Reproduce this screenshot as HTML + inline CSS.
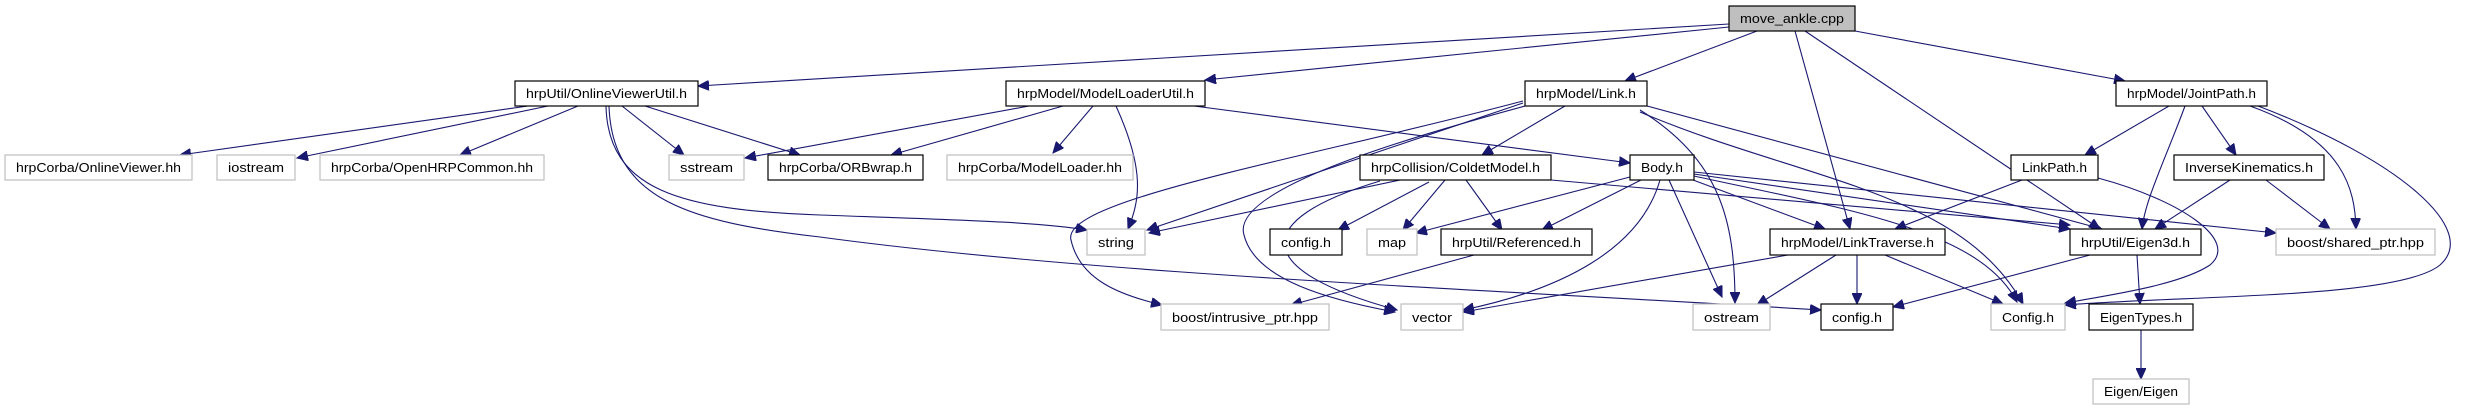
<!DOCTYPE html>
<html><head><meta charset="utf-8"><style>
html,body{margin:0;padding:0;background:#fff;}
svg{display:block;}
text{font-family:"Liberation Sans",sans-serif;font-size:13px;fill:#000;}
.b{fill:#fff;stroke:#000;stroke-width:1.2;}
.g{fill:#fff;stroke:#bfbfbf;stroke-width:1.2;}
.e{fill:none;stroke:#191970;stroke-width:1.1;marker-end:url(#a);}
</style></head><body>
<svg width="2468" height="411" viewBox="0 0 2468 411" xmlns="http://www.w3.org/2000/svg">
<defs><marker id="a" markerUnits="userSpaceOnUse" markerWidth="12" markerHeight="10" refX="11" refY="5" orient="auto"><path d="M0,0 L11,5 L0,10 z" fill="#191970" stroke="#191970"/></marker></defs>
<g>
<!-- edges from move_ankle -->
<path class="e" d="M1729,24 L698,86"/>
<path class="e" d="M1729,27 L1205,80"/>
<path class="e" d="M1757,31 L1625,81"/>
<path class="e" d="M1795,31 L1850,229"/>
<path class="e" d="M1805,31 L2100,229"/>
<path class="e" d="M1855,31 L2125,81"/>
<!-- OnlineViewerUtil -->
<path class="e" d="M528,106 L180,155"/>
<path class="e" d="M548,106 L297,158"/>
<path class="e" d="M578,106 L460,155"/>
<path class="e" d="M622,106 L684,155"/>
<path class="e" d="M645,106 L800,155"/>
<path class="e" d="M606,106 C608,190 680,210 820,215 C960,220 1040,222 1087,230"/>
<path class="e" d="M609,106 C612,200 690,222 820,237 C1100,275 1500,290 1821,310"/>
<!-- ModelLoaderUtil -->
<path class="e" d="M1029,106 L745,158"/>
<path class="e" d="M1063,106 L891,155"/>
<path class="e" d="M1093,106 L1053,153"/>
<path class="e" d="M1116,106 C1145,170 1140,200 1128,229"/>
<path class="e" d="M1194,106 L1630,163"/>
<!-- Link.h -->
<path class="e" d="M1523,101 C1300,160 1060,200 1071,240 C1080,280 1120,295 1162,305"/>
<path class="e" d="M1523,103 L1147,230"/>
<path class="e" d="M1525,106 C1400,140 1230,190 1244,235 C1255,280 1330,300 1395,312"/>
<path class="e" d="M1565,106 L1482,155"/>
<path class="e" d="M1640,110 C1720,160 1735,220 1735,303"/>
<path class="e" d="M1640,112 C1800,180 1960,190 2023,304"/>
<path class="e" d="M1647,106 L2102,229"/>
<!-- ColdetModel -->
<path class="e" d="M1400,180 L1149,233"/>
<path class="e" d="M1380,181 C1250,220 1250,270 1397,310"/>
<path class="e" d="M1429,182 L1338,230"/>
<path class="e" d="M1445,180 L1403,230"/>
<path class="e" d="M1466,180 L1502,230"/>
<path class="e" d="M1551,180 L2070,225"/>
<!-- Body.h -->
<path class="e" d="M1630,177 L1416,233"/>
<path class="e" d="M1641,180 L1542,230"/>
<path class="e" d="M1660,180 C1640,250 1560,290 1463,310"/>
<path class="e" d="M1669,180 L1722,297"/>
<path class="e" d="M1693,180 L1825,229"/>
<path class="e" d="M1694,174 L2070,229"/>
<path class="e" d="M1694,176 C1850,210 1980,230 2017,302"/>
<path class="e" d="M1694,172 L2276,233"/>
<!-- Referenced -->
<path class="e" d="M1474,255 L1291,305"/>
<!-- LinkTraverse -->
<path class="e" d="M1788,255 L1463,312"/>
<path class="e" d="M1836,255 L1757,305"/>
<path class="e" d="M1857,255 L1857,304"/>
<path class="e" d="M1885,255 L2003,304"/>
<!-- LinkPath -->
<path class="e" d="M2022,180 L1895,229"/>
<path class="e" d="M2098,178 C2180,200 2240,240 2210,265 C2180,285 2110,295 2065,303"/>
<!-- JointPath -->
<path class="e" d="M2169,106 L2085,155"/>
<path class="e" d="M2185,106 C2165,160 2145,200 2142,229"/>
<path class="e" d="M2202,106 L2236,155"/>
<path class="e" d="M2250,106 C2345,140 2355,190 2356,229"/>
<path class="e" d="M2258,106 C2400,160 2480,230 2440,265 C2400,298 2200,295 2065,305"/>
<!-- IK -->
<path class="e" d="M2230,180 L2155,229"/>
<path class="e" d="M2266,180 L2330,229"/>
<!-- Eigen3d -->
<path class="e" d="M2090,255 L1893,307"/>
<path class="e" d="M2137,255 L2140,304"/>
<path class="e" d="M2141,330 L2141,379"/>
</g>
<g>
<rect x="1729" y="6" width="126" height="25" fill="#bfbfbf" stroke="#000" stroke-width="1.2"/><text x="1792" y="23" text-anchor="middle" textLength="104" lengthAdjust="spacingAndGlyphs">move_ankle.cpp</text>

<rect class="b" x="515" y="81" width="183" height="25"/><text x="606.5" y="98" text-anchor="middle" textLength="161" lengthAdjust="spacingAndGlyphs">hrpUtil/OnlineViewerUtil.h</text>
<rect class="b" x="1006" y="81" width="199" height="25"/><text x="1105.5" y="98" text-anchor="middle" textLength="177" lengthAdjust="spacingAndGlyphs">hrpModel/ModelLoaderUtil.h</text>
<rect class="b" x="1525" y="81" width="122" height="25"/><text x="1586" y="98" text-anchor="middle" textLength="100" lengthAdjust="spacingAndGlyphs">hrpModel/Link.h</text>
<rect class="b" x="2116" y="81" width="151" height="25"/><text x="2191.5" y="98" text-anchor="middle" textLength="129" lengthAdjust="spacingAndGlyphs">hrpModel/JointPath.h</text>

<rect class="g" x="5" y="155" width="187" height="25"/><text x="98.5" y="172" text-anchor="middle" textLength="165" lengthAdjust="spacingAndGlyphs">hrpCorba/OnlineViewer.hh</text>
<rect class="g" x="217" y="155" width="78" height="25"/><text x="256" y="172" text-anchor="middle" textLength="56" lengthAdjust="spacingAndGlyphs">iostream</text>
<rect class="g" x="320" y="155" width="224" height="25"/><text x="432" y="172" text-anchor="middle" textLength="202" lengthAdjust="spacingAndGlyphs">hrpCorba/OpenHRPCommon.hh</text>
<rect class="g" x="669" y="155" width="75" height="25"/><text x="706.5" y="172" text-anchor="middle" textLength="53" lengthAdjust="spacingAndGlyphs">sstream</text>
<rect class="b" x="768" y="155" width="155" height="25"/><text x="845.5" y="172" text-anchor="middle" textLength="133" lengthAdjust="spacingAndGlyphs">hrpCorba/ORBwrap.h</text>
<rect class="g" x="947" y="155" width="186" height="25"/><text x="1040" y="172" text-anchor="middle" textLength="164" lengthAdjust="spacingAndGlyphs">hrpCorba/ModelLoader.hh</text>
<rect class="b" x="1360" y="155" width="191" height="25"/><text x="1455.5" y="172" text-anchor="middle" textLength="169" lengthAdjust="spacingAndGlyphs">hrpCollision/ColdetModel.h</text>
<rect class="b" x="1630" y="155" width="64" height="25"/><text x="1662" y="172" text-anchor="middle" textLength="42" lengthAdjust="spacingAndGlyphs">Body.h</text>
<rect class="b" x="2011" y="155" width="87" height="25"/><text x="2054.5" y="172" text-anchor="middle" textLength="65" lengthAdjust="spacingAndGlyphs">LinkPath.h</text>
<rect class="b" x="2174" y="155" width="150" height="25"/><text x="2249" y="172" text-anchor="middle" textLength="128" lengthAdjust="spacingAndGlyphs">InverseKinematics.h</text>

<rect class="g" x="1087" y="229" width="58" height="26"/><text x="1116" y="247" text-anchor="middle" textLength="36" lengthAdjust="spacingAndGlyphs">string</text>
<rect class="b" x="1270" y="229" width="72" height="26"/><text x="1306" y="247" text-anchor="middle" textLength="50" lengthAdjust="spacingAndGlyphs">config.h</text>
<rect class="g" x="1367" y="229" width="50" height="26"/><text x="1392" y="247" text-anchor="middle" textLength="28" lengthAdjust="spacingAndGlyphs">map</text>
<rect class="b" x="1441" y="229" width="151" height="26"/><text x="1516.5" y="247" text-anchor="middle" textLength="129" lengthAdjust="spacingAndGlyphs">hrpUtil/Referenced.h</text>
<rect class="b" x="1770" y="229" width="175" height="26"/><text x="1857.5" y="247" text-anchor="middle" textLength="153" lengthAdjust="spacingAndGlyphs">hrpModel/LinkTraverse.h</text>
<rect class="b" x="2070" y="229" width="131" height="26"/><text x="2135.5" y="247" text-anchor="middle" textLength="109" lengthAdjust="spacingAndGlyphs">hrpUtil/Eigen3d.h</text>
<rect class="g" x="2276" y="229" width="159" height="26"/><text x="2355.5" y="247" text-anchor="middle" textLength="137" lengthAdjust="spacingAndGlyphs">boost/shared_ptr.hpp</text>

<rect class="g" x="1161" y="304" width="168" height="26"/><text x="1245" y="322" text-anchor="middle" textLength="146" lengthAdjust="spacingAndGlyphs">boost/intrusive_ptr.hpp</text>
<rect class="g" x="1401" y="304" width="62" height="26"/><text x="1432" y="322" text-anchor="middle" textLength="40" lengthAdjust="spacingAndGlyphs">vector</text>
<rect class="g" x="1693" y="304" width="77" height="26"/><text x="1731.5" y="322" text-anchor="middle" textLength="55" lengthAdjust="spacingAndGlyphs">ostream</text>
<rect class="b" x="1821" y="304" width="72" height="26"/><text x="1857" y="322" text-anchor="middle" textLength="50" lengthAdjust="spacingAndGlyphs">config.h</text>
<rect class="g" x="1991" y="304" width="74" height="26"/><text x="2028" y="322" text-anchor="middle" textLength="52" lengthAdjust="spacingAndGlyphs">Config.h</text>
<rect class="b" x="2089" y="304" width="104" height="26"/><text x="2141" y="322" text-anchor="middle" textLength="82" lengthAdjust="spacingAndGlyphs">EigenTypes.h</text>

<rect class="g" x="2093" y="379" width="96" height="25"/><text x="2141" y="396" text-anchor="middle" textLength="74" lengthAdjust="spacingAndGlyphs">Eigen/Eigen</text>
</g>
</svg>
</body></html>
